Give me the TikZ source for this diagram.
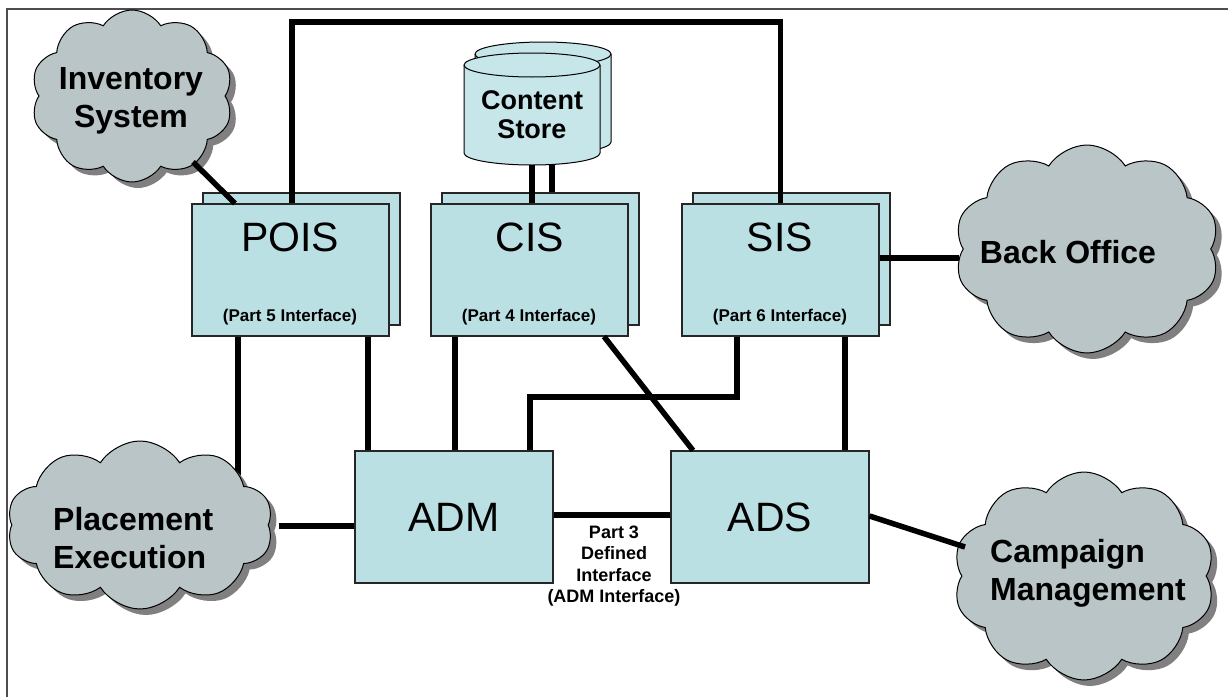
\documentclass[tikz,border=0pt]{standalone}
\usepackage{fontspec}
\setmainfont{Liberation Sans}
\usetikzlibrary{shapes.symbols,shadows,calc}
\definecolor{boxfill}{RGB}{187,224,228}
\definecolor{cylfill}{RGB}{198,230,233}
\definecolor{cloudfill}{RGB}{185,197,199}
\definecolor{shadowgray}{RGB}{128,128,128}
\definecolor{framegray}{RGB}{77,77,77}
\tikzset{
 comp/.style={draw=black!85, line width=1.1pt, fill=boxfill, minimum width=197pt, minimum height=132pt, inner sep=0pt},
 cloudnode/.style={cloud, cloud puffs=10, cloud puff arc=115, cloud ignores aspect, draw=black, line width=1pt, fill=cloudfill, inner sep=0pt, drop shadow={shadow xshift=6pt, shadow yshift=-6pt, opacity=1, fill=shadowgray}},
 cloudtext/.style={font=\fontsize{32}{38}\selectfont\bfseries, align=center, inner sep=0pt},
 title/.style={font=\fontsize{41}{45}\selectfont, inner sep=0pt},
 iface/.style={font=\fontsize{17}{20}\selectfont\bfseries, inner sep=0pt},
 conn/.style={line width=5.5pt, black},
 cyl/.style={draw=black, line width=1pt, fill=cylfill},
 frameline/.style={draw=framegray, line width=2pt},
}
\begin{document}
\begin{tikzpicture}[x=1pt,y=-1pt]
\useasboundingbox (0,0) rectangle (1228,696);
% frame
\draw[frameline] (1230,9) -- (7,9) -- (7,698);

% component boxes
\node[comp] (poisback) at (301.5,259) {};
\node[comp] (poisfront) at (290.5,270) {};
\node[comp] (cisback) at (540.5,259) {};
\node[comp] (cisfront) at (529.5,270) {};
\node[comp] (sisback) at (791.5,259) {};
\node[comp] (sisfront) at (780.5,270) {};
\node[comp, minimum width=198pt] (adm) at (454,517) {};
\node[comp, minimum width=198pt] (ads) at (770,517) {};

% connector hidden under the Placement cloud
\coordinate (placetop) at (238,480);
\draw[conn] ([xshift=-52.5pt]poisfront.south) -- (placetop);

% clouds
\node[cloudnode, minimum width=202pt, minimum height=172pt] (inv) at (132,96) {};
\node[cloudnode, minimum width=265pt, minimum height=208pt] (back) at (1087,249) {};
\node[cloudnode, minimum width=266pt, minimum height=168pt] (place) at (140,525) {};
\node[cloudnode, minimum width=262pt, minimum height=208pt] (camp) at (1084,576) {};
\node[cloudtext] (invt) at (131,101) {Inventory\\System};
\node[cloudtext] (backt) at (1068,252) {Back Office};
\node[cloudtext, align=left, anchor=west] (placet) at (53,538) {Placement\\Execution};
\node[cloudtext, align=left, anchor=west] (campt) at (990,573) {Campaign\\Management};

\node[title] (poist) at (290,237) {POIS};
\node[title] (cist) at (530,237) {CIS};
\node[title] (sist) at (780,237) {SIS};
\node[title] (admt) at (454,517) {ADM};
\node[title] (adst) at (770,517) {ADS};
\node[iface] (poisi) at (290,317) {(Part 5 Interface)};
\node[iface] (cisi) at (529,317) {(Part 4 Interface)};
\node[iface] (sisi) at (780,317) {(Part 6 Interface)};
\node[font=\fontsize{18}{21.6}\selectfont\bfseries, align=center, inner sep=0pt] (p3) at (614,566) {Part 3\\Defined\\Interface\\(ADM Interface)};

% content store cylinders
\path[cyl] (475,54) -- (475,142) arc[start angle=180,end angle=360,x radius=68pt,y radius=12pt] -- (611,54) arc[start angle=0,end angle=180,x radius=68pt,y radius=12pt] -- cycle;
\draw[line width=1pt] (475,54) arc[start angle=180,end angle=360,x radius=68pt,y radius=12pt];
\path[cyl] (464,65) -- (464,153) arc[start angle=180,end angle=360,x radius=68pt,y radius=12pt] -- (600,65) arc[start angle=0,end angle=180,x radius=68pt,y radius=12pt] -- cycle;
\draw[line width=1pt] (464,65) arc[start angle=180,end angle=360,x radius=68pt,y radius=12pt];
\node[cloudtext, font=\fontsize{27}{29}\selectfont\bfseries] (cst) at (532,115) {Content\\Store};

% named free ends
\coordinate (csf) at (532,165);
\coordinate (csb) at (552,165);
\coordinate (invend) at (193,162);
\coordinate (t1) at (292,22);
\coordinate (t2) at (780.5,22);
\coordinate (placeright) at (279,526);
\coordinate (k1) at (530,397);
\coordinate (backend) at (959,258);
\coordinate (campend) at (965,547);

% connectors
\draw[conn] (csf) -- ([xshift=2.5pt]cisfront.north);
\draw[conn] (csb) -- ([xshift=11.5pt]cisback.north);
\draw[conn] (invend) -- ([xshift=-55.5pt]poisfront.north);
\draw[conn] ([xshift=1.5pt]poisfront.north) -- (t1) -- (t2) -- (sisfront.north);
\draw[conn] ([xshift=77.5pt]poisfront.south) -- ([xshift=-86pt]adm.north);
\draw[conn] ([xshift=-74.5pt]cisfront.south) -- ([xshift=1pt]adm.north);
\draw[conn] ([xshift=74.5pt]cisfront.south) -- ([xshift=-77pt]ads.north);
\draw[conn] ([xshift=-43.5pt]sisfront.south) |- (k1) -- ([xshift=76pt]adm.north);
\draw[conn] ([xshift=64.5pt]sisfront.south) -- ([xshift=75pt]ads.north);
\draw[conn] ([yshift=12pt]sisfront.east) -- (backend);
\draw[conn] (placeright) -- ([yshift=-9pt]adm.west);
\draw[conn] ([yshift=2pt]adm.east) -- ([yshift=2pt]ads.west);
\draw[conn] ([yshift=1pt]ads.east) -- (campend);
\end{tikzpicture}
\end{document}
